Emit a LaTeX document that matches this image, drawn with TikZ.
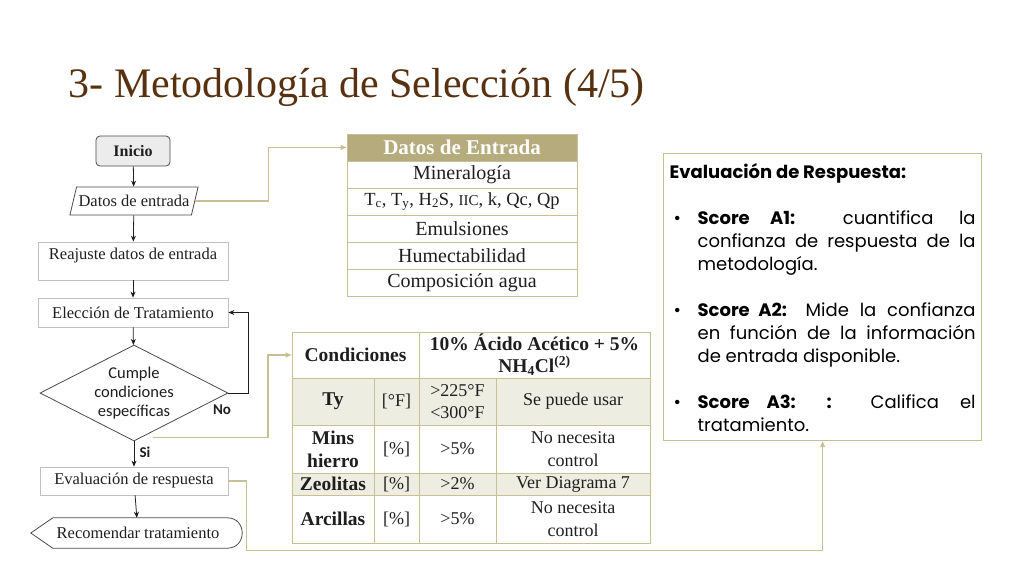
\documentclass[tikz,border=0pt]{standalone}
\usepackage{fontspec}
\setmainfont{Liberation Serif}
\newfontfamily\gothic{Poppins}
\newfontfamily\calibri{Carlito}
\usepackage{tikz}
\usetikzlibrary{shapes.geometric, arrows.meta, positioning}

\definecolor{tanline}{RGB}{200,192,148}
\definecolor{tanhead}{RGB}{181,171,124}
\definecolor{beige}{RGB}{238,237,226}
\definecolor{titlebrown}{RGB}{88,50,16}
\definecolor{boxgray}{RGB}{192,192,192}
\definecolor{ink}{RGB}{30,30,30}

\begin{document}
\begin{tikzpicture}[x=1pt, y=-1pt,
  every node/.style={font=\fontsize{16.5}{19}\selectfont, text=ink},
  flowbox/.style={draw=boxgray, line width=0.8pt, minimum width=190pt, minimum height=29pt, inner sep=2pt},
  flowarr/.style={ink, line width=0.8pt, -{Stealth[length=6pt, width=5pt]}},
  tanarr/.style={tanline, line width=1.2pt, -{Triangle[length=6pt, width=5pt]}},
  tone/.style={draw=tanline, line width=1pt, minimum width=230pt, minimum height=27pt, inner sep=0pt, font=\fontsize{20}{22}\selectfont},
  ttwo/.style={draw=tanline, line width=1pt, inner sep=0pt, align=center, font=\fontsize{18}{23}\selectfont},
  ttwob/.style={ttwo, font=\fontsize{19.5}{23}\selectfont\bfseries},
  yesno/.style={font=\calibri\bfseries\fontsize{15}{17}\selectfont}]
  \useasboundingbox (0,0) rectangle (1024,576);

  \node[anchor=base west, font=\fontsize{42}{48}\selectfont, text=titlebrown] (title) at (65,97) {3- Metodología de Selección (4/5)};

  % diagrama de flujo
  \node[draw=ink!80, fill=gray!15, rounded corners=4pt, line width=0.8pt, minimum width=74pt, minimum height=30pt, font=\fontsize{16}{18}\selectfont\bfseries] (ini) at (133,151) {Inicio};
  \node[trapezium, trapezium left angle=70, trapezium right angle=110, trapezium stretches=true, draw=ink!80, line width=0.8pt, minimum width=128pt, minimum height=28pt, inner xsep=2pt] (dat) at (134,201) {Datos de entrada};
  \node[flowbox, minimum height=38pt, text depth=14pt] (reaj) at (133,261) {Reajuste datos de entrada};
  \node[flowbox] (elec) at (133,312.5) {Elección de Tratamiento};
  \node[diamond, aspect=2, draw=ink!80, line width=0.8pt, minimum width=188pt, minimum height=96pt, inner sep=0pt, align=center, font=\calibri\fontsize{16.5}{19}\selectfont] (cond) at (134,393) {Cumple\\condiciones\\específicas};
  \node[flowbox, minimum width=188pt, minimum height=28pt] (eval) at (134,481) {Evaluación de respuesta};
  \node[minimum width=214pt, minimum height=30pt, inner sep=0pt] (reco) at (138,533) {Recomendar tratamiento};
  \draw[ink!80, line width=0.8pt] (reco.west) -- ([xshift=22pt]reco.north west) -- ([xshift=-18pt]reco.north east)
    .. controls ([xshift=2pt]reco.north east) and ([xshift=2pt]reco.south east) .. ([xshift=-18pt]reco.south east)
    -- ([xshift=22pt]reco.south west) -- cycle;
  \node[yesno] (no) at (222,410) {No};
  \node[yesno] (si) at (145,452) {Si};

  \draw[flowarr] (ini) -- (dat);
  \draw[flowarr] (dat) -- (reaj);
  \draw[flowarr] (reaj) -- (elec);
  \draw[flowarr] (elec) -- (cond);
  \draw[flowarr] (cond) -- (eval);
  \draw[flowarr] (eval) -- (reco);
  \draw[flowarr] (cond.east) -- ++(20,0) |- (elec.east);

  % datos de entrada
  \node[tone, fill=tanhead, text=white, font=\fontsize{21}{22}\selectfont\bfseries] (din) at (462,147.5) {Datos de Entrada};
  \node[tone] (min) at (462,174.5) {Mineralogía};
  \node[tone, font=\fontsize{18.5}{20}\selectfont] (tc) at (462,201.5) {T\textsubscript{c}, T\textsubscript{y}, H\textsubscript{2}S, {\fontsize{15}{17}\selectfont IIC}, k, Qc, Qp};
  \node[tone] (emu) at (462,228.5) {Emulsiones};
  \node[tone] (hum) at (462,255.5) {Humectabilidad};
  \node[tone] (agua) at (462,282.5) {Composición agua};

  % condiciones del tratamiento
  \node[ttwob, minimum width=127pt, minimum height=46pt] (cnd) at (355.5,355) {Condiciones};
  \node[ttwob, minimum width=231pt, minimum height=46pt, font=\fontsize{19.5}{22}\selectfont\bfseries] (acid) at (534.5,355) {10\% Ácido Acético + 5\%\\NH\textsubscript{4}Cl\textsuperscript{(2)}};
  \node[ttwob, fill=beige, minimum width=82pt, minimum height=47pt] (ty) at (333,401.5) {Ty};
  \node[ttwo, fill=beige, minimum width=45pt, minimum height=47pt] (tyu) at (396.5,401.5) {[°F]};
  \node[ttwo, fill=beige, minimum width=77pt, minimum height=47pt, font=\fontsize{18}{22}\selectfont] (tyv) at (457.5,401.5) {>225°F\\<300°F};
  \node[ttwo, fill=beige, minimum width=154pt, minimum height=47pt] (tyr) at (573,401.5) {Se puede usar};
  \node[ttwob, minimum width=82pt, minimum height=48pt] (fe) at (333,449) {Mins\\hierro};
  \node[ttwo, minimum width=45pt, minimum height=48pt] (feu) at (396.5,449) {[\%]};
  \node[ttwo, minimum width=77pt, minimum height=48pt] (fev) at (457.5,449) {>5\%};
  \node[ttwo, minimum width=154pt, minimum height=48pt] (fer) at (573,449) {No necesita\\control};
  \node[ttwob, fill=beige, minimum width=82pt, minimum height=22pt] (zeo) at (333,484) {Zeolitas};
  \node[ttwo, fill=beige, minimum width=45pt, minimum height=22pt] (zeou) at (396.5,484) {[\%]};
  \node[ttwo, fill=beige, minimum width=77pt, minimum height=22pt] (zeov) at (457.5,484) {>2\%};
  \node[ttwo, fill=beige, minimum width=154pt, minimum height=22pt] (zeor) at (573,484) {Ver Diagrama 7};
  \node[ttwob, minimum width=82pt, minimum height=48pt] (arc) at (333,519) {Arcillas};
  \node[ttwo, minimum width=45pt, minimum height=48pt] (arcu) at (396.5,519) {[\%]};
  \node[ttwo, minimum width=77pt, minimum height=48pt] (arcv) at (457.5,519) {>5\%};
  \node[ttwo, minimum width=154pt, minimum height=48pt] (arcr) at (573,519) {No necesita\\control};

  % evaluacion de respuesta
  \node[anchor=north west, draw=tanline, line width=1.2pt, text width=306pt, inner xsep=6pt, inner ysep=0pt, minimum height=287pt, text=black, align=justify,
        font=\gothic\fontsize{18}{23}\selectfont] (resp) at (663,153) {%
    \parindent=0pt\hyphenpenalty=10000\exhyphenpenalty=10000
    {\bfseries Evaluación de Respuesta:}\par\vspace{23pt}
    \hangindent=28pt\hangafter=1\makebox[28pt][l]{\hspace{4pt}•}{\bfseries Score A1:} cuantifica la\linebreak confianza de respuesta de la\linebreak metodología.\par\vspace{23pt}
    \hangindent=28pt\hangafter=1\makebox[28pt][l]{\hspace{4pt}•}{\bfseries Score A2:} Mide la confianza\linebreak en función de la información\linebreak de entrada disponible.\par\vspace{23pt}
    \hangindent=28pt\hangafter=1\makebox[28pt][l]{\hspace{4pt}•}{\bfseries Score A3: :} Califica el\linebreak tratamiento.\par};

  \coordinate (condtap) at ([xshift=19pt, yshift=4pt]cond.south);
  \draw[tanarr] (dat.east) -- ++(73,0) |- (din.west);
  \draw[tanarr] (condtap) -- ++(115,0) |- (cnd.west);
  \draw[tanarr] (eval.east) -- ++(18,0) |- ([yshift=-109pt]resp.south) -- (resp.south);
\end{tikzpicture}
\end{document}
